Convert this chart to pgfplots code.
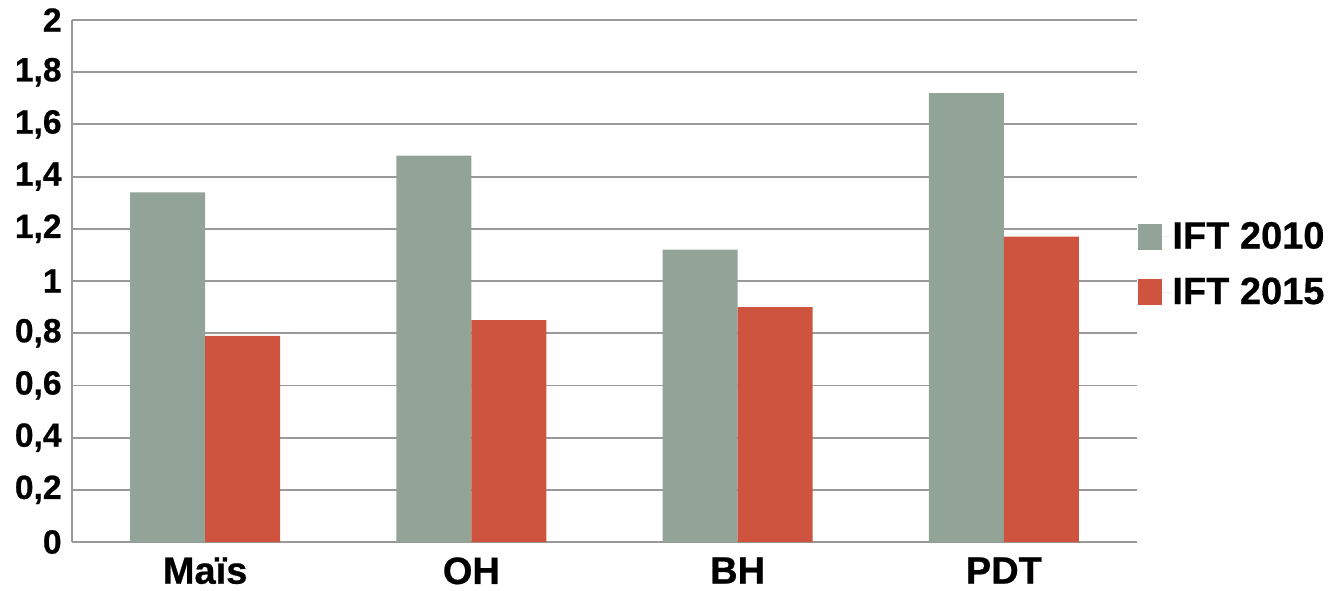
\documentclass[border=0pt]{standalone}
\usepackage{pgfplots}
\pgfplotsset{compat=1.18}
\usepackage{fontspec}
\setmainfont{Liberation Sans}[BoldFeatures={FakeBold=0.6}]
\definecolor{cgray}{HTML}{92A398}
\definecolor{cred}{HTML}{CF543F}
\definecolor{cgrid}{HTML}{999999}
\begin{document}
\begin{tikzpicture}
\begin{axis}[
  name=ax,
  scale only axis,
  width=532.5bp, height=261bp,
  ymin=0, ymax=2,
  xmin=-0.5, xmax=3.5,
  ytick={0,0.2,...,2.01},
  xtick=data,
  xticklabels={Maïs,OH,BH,PDT},
  ybar=0pt,
  bar width=37.5bp,
  ymajorgrids,
  grid style={cgrid, line width=0.9bp},
  axis x line*=bottom,
  axis y line*=left,
  axis line style={-, draw=cgrid, line width=0.9bp},
  major tick length=0pt,
  /pgf/number format/use comma,
  /pgf/number format/assume math mode=true,
  yticklabel style={font=\fontsize{16.8bp}{19bp}\selectfont\bfseries, inner xsep=0pt, xshift=-5bp},
  xticklabel style={font=\fontsize{19bp}{22bp}\selectfont\bfseries, inner ysep=0pt, yshift=-7.5bp},
  legend style={draw=none, fill=none, at={(1.0,0.5316)}, anchor=west,
    font=\fontsize{19bp}{22bp}\selectfont\bfseries, row sep=13bp, column sep=0pt,
    inner xsep=0pt, inner ysep=0pt, nodes={inner sep=0pt, anchor=west}},
  legend image code/.code={\path (0bp,0bp) -- (17.5bp,0bp);\fill[#1] (0.5bp,-6.5bp) rectangle (12.5bp,6.5bp);},
  legend cell align=left,
]
\addplot[fill=cgray, draw=none] coordinates {(0,1.34) (1,1.48) (2,1.12) (3,1.72)};
\addplot[fill=cred, draw=none] coordinates {(0,0.79) (1,0.85) (2,0.90) (3,1.17)};
\legend{IFT 2010, IFT 2015}
\end{axis}
\pgfresetboundingbox
\path (ax.south west) ++(-36bp,-24bp) coordinate (bl);
\path (ax.north east) ++(96bp,10bp) coordinate (tr);
\useasboundingbox (bl) rectangle (tr);
\end{tikzpicture}
\end{document}
